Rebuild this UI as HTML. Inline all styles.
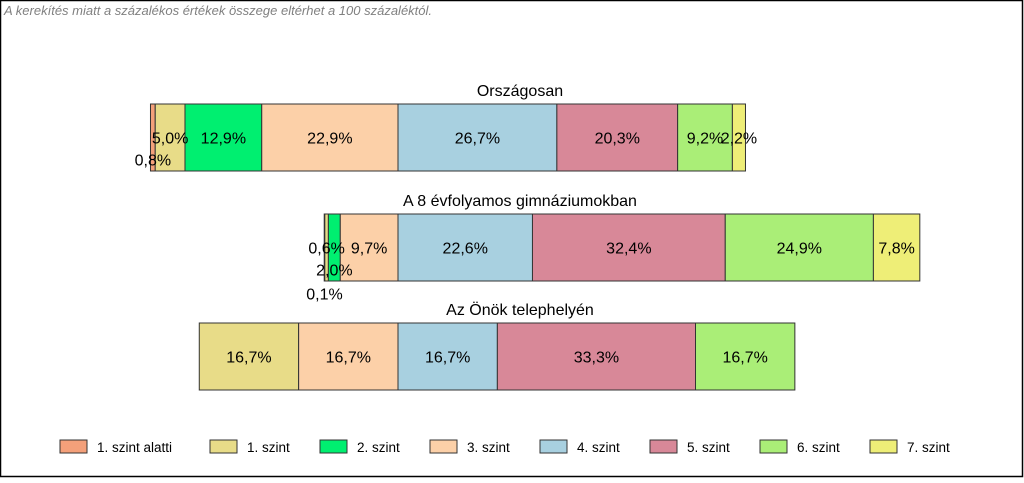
<!DOCTYPE html>
<html><head><meta charset="utf-8"><style>
body{margin:0;background:#fff;font-family:"Liberation Sans",sans-serif}
#wrap{position:relative;width:1024px;height:478px}
</style></head><body>
<div id="wrap">
<svg id="svg" width="1024" height="478" xmlns="http://www.w3.org/2000/svg">
<rect x="0.5" y="0.5" width="1022" height="476" fill="#fff" stroke="#000" stroke-width="1.5"/>
<text x="4" y="15" font-size="13" font-style="italic" fill="#808080">A kerekítés miatt a  százalékos értékek összege eltérhet a 100 százaléktól.</text>
<g id="bars"></g>
<g id="labels"></g>
<g id="legend"></g>
</svg>
</div>
<script>
const categories=["Országosan","A 8 évfolyamos gimnáziumokban","Az Önök telephelyén"];
const levels=["1. szint alatti","1. szint","2. szint","3. szint","4. szint","5. szint","6. szint","7. szint"];
const seriesOrszagos=[0.8,5.0,12.9,22.9,26.7,20.3,9.2,2.2];
const series8evf=[0.1,0.6,2.0,9.7,22.6,32.4,24.9,7.8];
const seriesOnok=[0,16.7,0,16.7,16.7,33.3,16.7,0];
const allSeries=[seriesOrszagos,series8evf,seriesOnok];
const colors=["#f4a07a","#e8dc88","#00ef70","#fcd0a8","#a8d0e0","#d88898","#aaee77","#eeee77"];
const ns="http://www.w3.org/2000/svg";
const scale=5.95, anchorX=398;
const barTops=[104,214,323], barH=67, titleY=[96,206,315];
const legendX=[60,210,320,430,540,650,760,870];
const xPos=(pct)=>pct*scale;
const g=document.getElementById('bars');
const lbl=document.getElementById('labels');
function mk(tag,attrs){const e=document.createElementNS(ns,tag);for(const k in attrs)e.setAttribute(k,attrs[k]);return e;}
allSeries.forEach((vals,bi)=>{
  const t=mk('text',{x:520,y:titleY[bi],'font-size':16,'text-anchor':'middle',fill:'#000'});
  t.textContent=categories[bi];
  
  
  lbl.appendChild(t);
  let below=vals.slice(0,4).reduce((a,b)=>a+b,0);
  let x=anchorX-xPos(below);
  let smallIdx=0;
  vals.forEach((v,i)=>{
    if(v<=0)return;
    const w=xPos(v);
    const r=mk('rect',{x:x,y:barTops[bi],width:w,height:barH,fill:colors[i],stroke:'#333','stroke-width':1});
    
    
    g.appendChild(r);
    const cy=barTops[bi]+barH/2;
    let ly=cy+6;
    if(v<3){
      const offs=bi===0?[22,0,22]:[46,0,22];
      ly=cy+6+offs[smallIdx%3];smallIdx++;
    }
    const lt=mk('text',{x:x+w/2,y:ly,'font-size':16,'text-anchor':'middle',fill:'#000'});
    lt.textContent=v.toFixed(1).replace('.',',')+'%';
    
    
    lbl.appendChild(lt);
    x+=w;
  });
});
const lg=document.getElementById('legend');
levels.forEach((name,i)=>{
  const lx=legendX[i];
  const s=mk('rect',{x:lx,y:440,width:27,height:13,fill:colors[i],stroke:'#333','stroke-width':1});
  
  
  lg.appendChild(s);
  const t=mk('text',{x:lx+37,y:452,'font-size':13.5,fill:'#000'});
  t.textContent=name;
  
  
  lg.appendChild(t);
});
</script>
</body></html>
